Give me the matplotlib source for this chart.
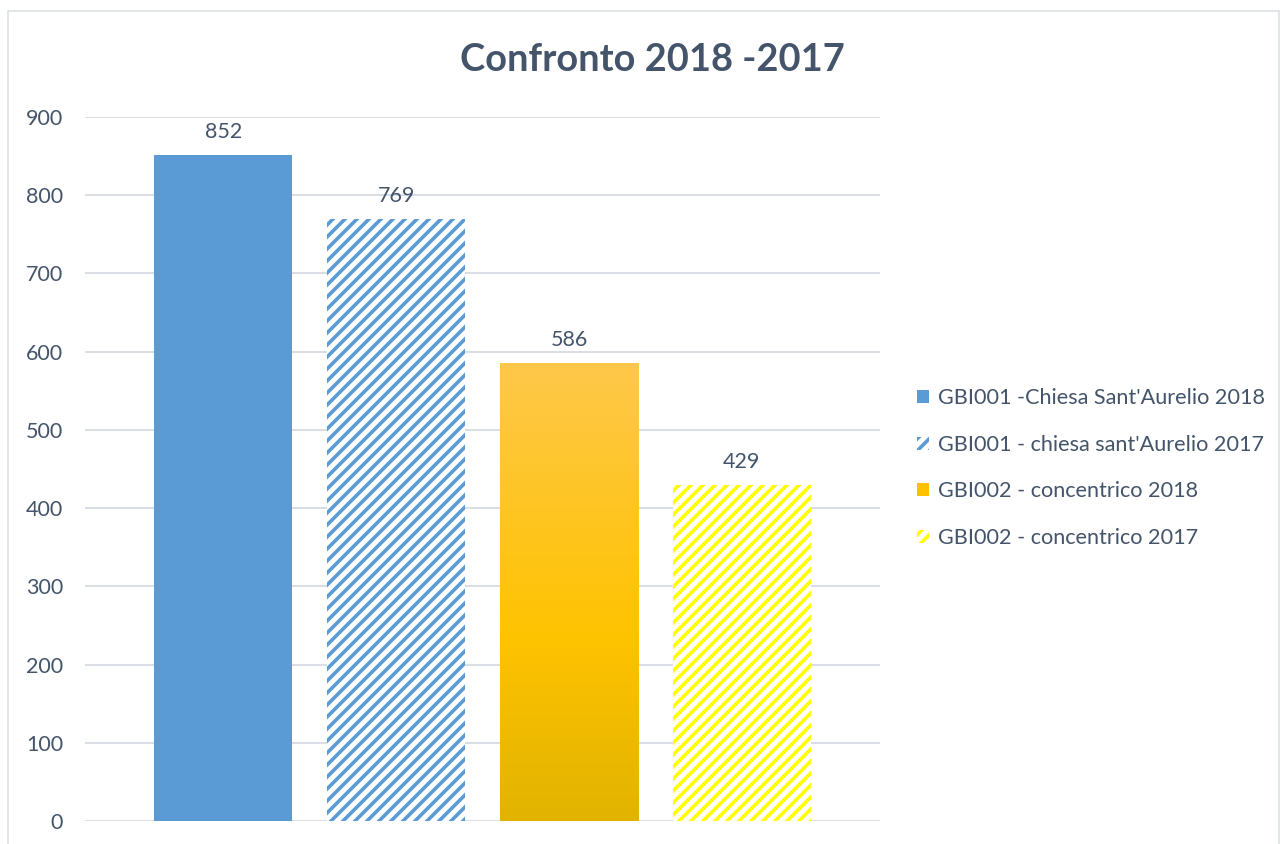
import numpy as np
import matplotlib
matplotlib.use('Agg')
import matplotlib.pyplot as plt
from matplotlib.patches import Rectangle
from matplotlib.colors import LinearSegmentedColormap

# data
labels = ["GBI001 -Chiesa Sant'Aurelio 2018", "GBI001 - chiesa sant'Aurelio 2017",
          "GBI002 - concentrico 2018", "GBI002 - concentrico 2017"]
values = [852, 769, 586, 429]
yticks = [0, 100, 200, 300, 400, 500, 600, 700, 800, 900]

textColor = '#44546A'
gridColor = '#D9DDE4'

plt.rcParams['font.family'] = ['Lato', 'DejaVu Sans']
plt.rcParams['hatch.linewidth'] = 3.6

# dpi 72 -> 1 pt = 1 px
fig = plt.figure(figsize=(1284 / 72, 844 / 72), dpi=72)
ax = fig.add_axes([85 / 1284, 1 - 821 / 844, (880 - 85) / 1284, (821 - 117) / 844])

# chart border
fig.patches.append(Rectangle((8 / 1284, -0.05), (1279 - 8) / 1284, 1.05 - 11 / 844,
                             transform=fig.transFigure, fill=False,
                             edgecolor='#D9DDE4', linewidth=1.5))

x = np.arange(len(values))
w = 0.8
b1 = ax.bar(x[0], values[0], w, color='#5B9BD5', label=labels[0], zorder=3)
b2 = ax.bar(x[1], values[1], w, facecolor='white', edgecolor='#5B9BD5', linewidth=0,
            hatch='//', label=labels[1], zorder=3)
b3 = ax.bar(x[2], values[2], w, color='#FFC000', label=labels[2], zorder=3)
b4 = ax.bar(x[3], values[3], w, facecolor='white', edgecolor='#FFFF00', linewidth=0,
            hatch='//', label=labels[3], zorder=3)

# gradient fill for the gold bar
gold = LinearSegmentedColormap.from_list('gold', [(0.0, '#E1B300'), (0.4, '#FFC300'), (1.0, '#FEC84A')])
patch = b3.patches[0]
grad = np.linspace(0, 1, 256).reshape(-1, 1)
im = ax.imshow(grad, cmap=gold, origin='lower', aspect='auto',
               extent=[x[2] - w / 2, x[2] + w / 2, 0, values[2]], zorder=3.5)
im.set_clip_path(patch)

ax.set_xlim(-0.8, 3.8)
ax.set_ylim(0, 900)
ax.set_yticks(yticks)
ax.set_xticks([])
ax.grid(axis='y', color=gridColor, linewidth=2, zorder=0)
for s in ax.spines.values():
    s.set_visible(False)
ax.tick_params(axis='y', length=0, labelsize=21.5, labelcolor=textColor, pad=22)
for t in ax.get_yticklabels():
    t.set_horizontalalignment('right')

for xi, v in zip(x, values):
    ax.annotate(str(v), (xi, v), xytext=(0, 13), textcoords='offset points',
                ha='center', va='bottom', fontsize=21.5, color=textColor)

fig.text(652 / 1284, 1 - 60 / 844, 'Confronto 2018 -2017', ha='center', va='center',
         fontsize=38, fontweight='bold', color=textColor)

fig.legend(handles=[b1, b2, b3, b4], loc='center left',
           bbox_to_anchor=(917 / 1284, 1 - 468 / 844), frameon=False,
           fontsize=21.6, labelcolor=textColor, handlelength=0.55, handleheight=0.55,
           handletextpad=0.4, labelspacing=1.23, borderpad=0, borderaxespad=0)

fig.savefig('out.png', dpi=72)
